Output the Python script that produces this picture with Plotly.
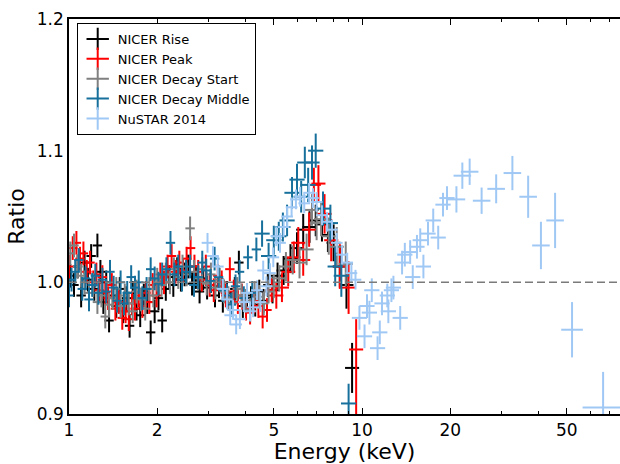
import plotly.graph_objects as go

# ---------------- data ----------------
E_rise = [1.01, 1.04, 1.07, 1.10, 1.13, 1.16, 1.19, 1.22, 1.25, 1.28,
          1.31, 1.34, 1.37, 1.41, 1.45, 1.49, 1.53, 1.57, 1.61, 1.65,
          1.70, 1.75, 1.80, 1.85, 1.90, 1.96, 2.02, 2.08, 2.14, 2.20,
          2.27, 2.34, 2.41, 2.48, 2.55, 2.63, 2.71, 2.79, 2.87, 2.96,
          3.05, 3.15, 3.25, 3.35, 3.46, 3.57, 3.68, 3.80, 3.92, 4.05,
          4.18, 4.32, 4.46, 4.61, 4.77, 4.95, 5.15, 5.40, 5.70, 6.00,
          6.30, 6.62, 6.95, 7.30, 7.65, 8.00, 8.40, 8.85, 9.25]
R_rise = [1.005, 0.998, 1.012, 0.990, 1.015, 1.002, 1.020, 0.995, 1.028, 1.008,
          0.985, 1.000, 0.971, 0.990, 0.982, 0.995, 0.978, 0.988, 0.967, 0.992,
          0.980, 0.975, 0.990, 0.985, 0.962, 0.978, 0.988, 0.971, 0.995, 1.004,
          0.998, 1.010, 1.002, 1.006, 1.012, 0.999, 1.004, 0.993, 1.003, 0.996,
          1.001, 0.990, 0.997, 0.986, 0.992, 0.984, 0.995, 1.015, 0.982, 0.990,
          0.988, 0.983, 0.993, 0.986, 0.998, 0.994, 1.005, 1.009, 1.018, 1.026,
          1.040, 1.042, 1.047, 1.044, 1.036, 1.030, 1.012, 0.998, 0.935]
yerr_rise = [0.009] * 55 + [0.010, 0.010, 0.011, 0.011, 0.012, 0.012, 0.012,
                            0.012, 0.013, 0.013, 0.014, 0.016, 0.018, 0.019]
xhw_rise = [0.016] * 55 + [0.024] * 14

E_peak = [1.00, 1.03, 1.06, 1.09, 1.12, 1.15, 1.18, 1.21, 1.24, 1.27,
          1.30, 1.33, 1.36, 1.40, 1.44, 1.48, 1.52, 1.56, 1.60, 1.64,
          1.68, 1.73, 1.78, 1.83, 1.88, 1.93, 1.99, 2.05, 2.11, 2.17,
          2.24, 2.31, 2.38, 2.45, 2.52, 2.60, 2.68, 2.76, 2.84, 2.93,
          3.02, 3.12, 3.22, 3.32, 3.43, 3.54, 3.65, 3.77, 3.89, 4.02,
          4.15, 4.29, 4.43, 4.58, 4.74, 4.92, 5.10, 5.33, 5.60, 5.85,
          6.06, 6.30, 6.60, 6.85, 7.10, 7.45, 7.85, 8.40, 9.00, 9.55]
R_peak = [1.012, 1.026, 1.030, 1.018, 1.022, 1.008, 1.015, 1.000, 1.006, 0.994,
          1.004, 0.992, 0.988, 0.998, 0.980, 0.985, 0.973, 0.978, 0.972, 0.984,
          0.980, 0.990, 0.982, 0.992, 0.985, 0.998, 0.990, 1.006, 1.000, 1.012,
          1.020, 1.008, 1.015, 1.009, 1.018, 1.026, 1.012, 1.008, 1.002, 1.012,
          0.998, 0.994, 1.005, 1.000, 0.990, 1.010, 0.993, 0.985, 0.990, 0.980,
          0.977, 0.986, 0.982, 0.974, 0.979, 0.994, 0.990, 0.996, 1.008, 1.019,
          1.030, 1.017, 1.040, 1.074, 1.075, 1.052, 1.032, 1.012, 0.996, 0.949]
yerr_peak = [0.009] * 56 + [0.010, 0.011, 0.011, 0.012, 0.012, 0.012, 0.013,
                            0.013, 0.014, 0.015, 0.016, 0.017, 0.020, 0.023]
yerr_peak_minus = [0.009] * 56 + [0.010, 0.011, 0.011, 0.012, 0.012, 0.012, 0.013,
                                  0.013, 0.014, 0.015, 0.016, 0.017, 0.020, 0.060]
xhw_peak = [0.016] * 56 + [0.024] * 14

E_ds = [1.01, 1.04, 1.07, 1.10, 1.13, 1.17, 1.21, 1.25, 1.29, 1.33,
        1.37, 1.41, 1.45, 1.50, 1.55, 1.60, 1.65, 1.70, 1.76, 1.82,
        1.88, 1.94, 2.00, 2.07, 2.14, 2.21, 2.28, 2.36, 2.44, 2.52,
        2.59, 2.67, 2.76, 2.85, 2.95, 3.05, 3.16, 3.27, 3.38, 3.50,
        3.62, 3.75, 3.88, 4.01, 4.15, 4.30, 4.45, 4.62, 4.80, 5.00,
        5.22, 5.50, 5.80, 6.12, 6.47, 6.75, 7.00, 7.25, 7.70, 8.20,
        8.80]
R_ds = [1.022, 1.028, 1.012, 1.005, 1.000, 0.992, 0.998, 0.985, 0.990, 0.974,
        0.983, 0.988, 0.995, 0.982, 0.990, 0.984, 0.978, 0.993, 0.987, 0.980,
        0.995, 0.990, 1.002, 0.998, 1.006, 1.000, 1.010, 1.004, 1.012, 1.006,
        1.041, 1.008, 1.003, 1.010, 0.999, 1.006, 0.996, 1.002, 0.993, 0.988,
        0.984, 0.995, 0.990, 0.986, 0.979, 0.992, 0.989, 0.984, 0.993, 0.997,
        1.003, 1.012, 1.017, 1.015, 1.025, 1.055, 1.045, 1.048, 1.035, 1.027,
        1.014]
yerr_ds = [0.009] * 50 + [0.010, 0.011, 0.011, 0.012, 0.012, 0.012,
                          0.013, 0.013, 0.014, 0.015, 0.017]
xhw_ds = [0.016] * 50 + [0.024] * 11

E_dm = [1.00, 1.02, 1.05, 1.08, 1.11, 1.14, 1.17, 1.20, 1.23, 1.26,
        1.30, 1.34, 1.38, 1.42, 1.46, 1.50, 1.54, 1.58, 1.63, 1.68,
        1.73, 1.78, 1.84, 1.90, 1.96, 2.02, 2.08, 2.15, 2.22, 2.29,
        2.36, 2.43, 2.51, 2.59, 2.67, 2.76, 2.85, 2.94, 3.04, 3.14,
        3.24, 3.35, 3.46, 3.58, 3.70, 3.82, 3.95, 4.08, 4.22, 4.36,
        4.56, 4.80, 5.00, 5.20, 5.37, 5.55, 5.77, 6.00, 6.20, 6.38,
        6.55, 6.75, 6.95, 7.36, 7.80, 8.10, 8.50, 9.00]
R_dm = [0.990, 1.002, 1.008, 1.017, 0.995, 1.003, 0.987, 0.998, 1.005, 0.992,
        1.002, 0.993, 1.008, 0.996, 0.986, 1.000, 0.984, 0.992, 1.004, 0.996,
        1.000, 0.988, 0.995, 1.010, 1.003, 0.999, 1.006, 1.010, 1.030, 1.006,
        1.012, 1.002, 1.008, 1.012, 0.998, 1.004, 1.015, 1.009, 1.001, 1.018,
        1.004, 0.994, 0.990, 0.983, 0.997, 1.008, 0.988, 1.019, 0.992, 1.025,
        1.037, 1.020, 1.032, 1.035, 1.042, 1.047, 1.068, 1.078, 1.065, 1.091,
        1.074, 1.091, 1.100, 1.056, 1.045, 1.012, 1.005, 0.908]
yerr_dm = [0.009] * 50 + [0.010, 0.010, 0.011, 0.011, 0.011, 0.012, 0.012, 0.012,
                          0.012, 0.012, 0.013, 0.013, 0.013, 0.013, 0.014, 0.015,
                          0.016, 0.015]
xhw_dm = [0.016] * 50 + [0.026] * 18

E_nu = [2.97, 3.10, 3.22, 3.35, 3.46, 3.55, 3.63, 3.72, 3.83, 3.95,
        4.05, 4.15, 4.25, 4.38, 4.50, 4.60, 4.72, 4.85, 4.98, 5.10,
        5.25, 5.40, 5.55, 5.75, 5.95, 6.15, 6.35, 6.60, 6.80, 7.00,
        7.30, 7.60, 7.90, 8.20, 8.55, 8.90, 9.20, 9.50, 9.80, 10.2,
        10.4, 10.6, 10.8, 11.3, 11.5, 11.7, 12.2, 12.3, 12.6, 12.8,
        13.5, 13.7, 14.0, 14.6, 14.9, 15.4, 15.8, 16.2, 16.8, 17.5,
        18.2, 18.9, 19.5, 21.0, 22.0, 23.3, 25.6, 28.7, 32.6, 36.9,
        40.8, 45.6, 52.1, 66.5]
R_nu = [1.030, 1.020, 1.012, 0.995, 0.987, 0.975, 0.979, 0.968, 0.972, 0.985,
        0.992, 0.978, 0.981, 0.994, 0.985, 1.009, 0.997, 1.007, 1.019, 1.035,
        1.030, 1.042, 1.050, 1.057, 1.063, 1.065, 1.060, 1.068, 1.064, 1.061,
        1.051, 1.046, 1.040, 1.030, 1.021, 1.015, 1.007, 1.002, 0.973, 0.959,
        0.982, 0.977, 0.994, 0.950, 0.962, 0.984, 0.990, 0.978, 0.994, 0.996,
        0.973, 1.015, 1.021, 1.023, 1.004, 1.027, 1.032, 1.012, 1.037, 1.047,
        1.034, 1.059, 1.064, 1.063, 1.081, 1.084, 1.062, 1.071, 1.083, 1.065,
        1.028, 1.047, 0.964, 0.905]
yerr_nu = [0.0075] * 38 + [0.009] * 25 + [0.010, 0.010, 0.010, 0.010, 0.011,
                                          0.013, 0.016, 0.018, 0.021, 0.021, 0.027]
xhw_nu = [0.02] * 38 + [0.026] * 25 + [0.03] * 9 + [0.037, 0.07]

series_names = ["NICER Rise", "NICER Peak", "NICER Decay Start",
                "NICER Decay Middle", "NuSTAR 2014"]
x_tick_vals = [1, 2, 5, 10, 20, 50]
x_minor_vals = [3, 4, 6, 7, 8, 9, 30, 40, 60, 70]
y_tick_vals = [0.9, 1.0, 1.1, 1.2]
y_tick_text = ["0.9", "1.0", "1.1", "1.2"]

# ---------------- style ----------------
colors = ["#000000", "#ff0000", "#808080", "#17709c", "#a0c8f5"]
FONT = "DejaVu Sans"


def xerrs(E, hw):
    plus = [e * (10 ** h - 1) for e, h in zip(E, hw)]
    minus = [e * (1 - 10 ** (-h)) for e, h in zip(E, hw)]
    return plus, minus


datasets = [
    (E_rise, R_rise, yerr_rise, yerr_rise, xhw_rise),
    (E_peak, R_peak, yerr_peak, yerr_peak_minus, xhw_peak),
    (E_ds, R_ds, yerr_ds, yerr_ds, xhw_ds),
    (E_dm, R_dm, yerr_dm, yerr_dm, xhw_dm),
    (E_nu, R_nu, yerr_nu, yerr_nu, xhw_nu),
]

fig = go.Figure()
for (E, R, ye, yem, hw), col, name in zip(datasets, colors, series_names):
    xp, xm = xerrs(E, hw)
    fig.add_trace(go.Scatter(
        x=E, y=R, mode="markers", name=name, showlegend=False,
        marker=dict(size=0, color=col, opacity=0),
        error_x=dict(type="data", array=xp, arrayminus=xm, symmetric=False,
                     color=col, thickness=2, width=0),
        error_y=dict(type="data", array=ye, arrayminus=yem, symmetric=False,
                     color=col, thickness=2, width=0),
        hoverinfo="skip"))

for col, name in zip(colors, series_names):
    fig.add_trace(go.Scatter(
        x=[None], y=[None], mode="markers", name=name,
        marker=dict(symbol="cross-thin", size=16, color=col,
                    line=dict(color=col, width=2))))

fig.add_shape(type="line", xref="paper", yref="y", x0=0, x1=1, y0=1.0, y1=1.0,
              line=dict(color="#7a7a7a", width=1.5, dash="8px,4px"), layer="above")

fig.update_xaxes(
    type="log", range=[0, 1.8805],
    tickvals=x_tick_vals, ticktext=[str(v) for v in x_tick_vals],
    ticks="inside", ticklen=6, tickwidth=1, tickcolor="black",
    showline=True, linecolor="black", linewidth=1.5, mirror="ticks",
    showgrid=False, zeroline=False,
    minor=dict(tickvals=x_minor_vals, ticks="inside", ticklen=3,
               tickwidth=1, tickcolor="black", showgrid=False),
    tickfont=dict(family=FONT, size=17, color="black"),
    title=dict(text="Energy (keV)", font=dict(family=FONT, size=22, color="black"),
               standoff=4),
)
fig.update_yaxes(
    range=[0.9, 1.2], tickvals=y_tick_vals, ticktext=y_tick_text,
    ticks="", showline=True, linecolor="black", linewidth=1.5, mirror=False,
    showgrid=False, zeroline=False,
    tickfont=dict(family=FONT, size=17, color="black"),
    title=dict(text="Ratio", font=dict(family=FONT, size=22, color="black"),
               standoff=6),
)
fig.update_layout(
    width=620, height=464,
    margin=dict(l=69, r=0, t=19, b=50, autoexpand=False),
    plot_bgcolor="white", paper_bgcolor="white",
    font=dict(family=FONT, color="black"),
    legend=dict(x=0.014, y=0.99, xanchor="left", yanchor="top",
                bgcolor="white", bordercolor="black", borderwidth=1,
                font=dict(family=FONT, size=13, color="black"),
                itemsizing="trace"),
)
fig.write_html("out.html", config={"displayModeBar": False},
               post_script="document.body.style.margin='0';")
